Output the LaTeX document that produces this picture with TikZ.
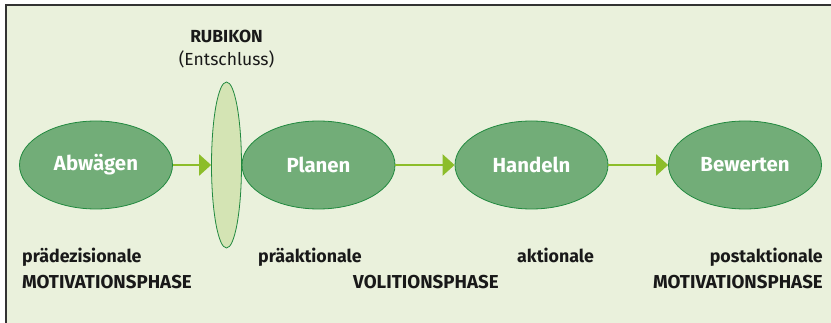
\documentclass[tikz,border=0pt]{standalone}
\usepackage{fontspec}
\setmainfont{Fira Sans}
\usetikzlibrary{shapes.geometric,arrows.meta}
\definecolor{bgpanel}{HTML}{EAF1DC}
\definecolor{phasefill}{HTML}{72AD78}
\definecolor{phaseline}{HTML}{21893F}
\definecolor{rubifill}{HTML}{D4E4B4}
\definecolor{arrowgreen}{HTML}{8CBD2A}
\definecolor{frameline}{HTML}{333333}
\tikzset{
  phase/.style={ellipse, draw=phaseline, fill=phasefill, line width=0.8pt,
    minimum width=153pt, minimum height=88pt, inner sep=0pt,
    text=white, font=\fontsize{20.4}{22}\selectfont\bfseries},
  rubicon/.style={ellipse, draw=phaseline, fill=rubifill, line width=0.8pt,
    minimum width=30pt, minimum height=166pt, inner sep=0pt},
  flow/.style={draw=arrowgreen, line width=2.6pt,
    -{Triangle[length=12pt,width=21pt]}},
  caption/.style={inner sep=0pt, text=black!90,
    font=\fontsize{18.7}{21}\selectfont\bfseries},
  smallcaption/.style={caption, font=\fontsize{17.8}{21}\selectfont\bfseries},
}
\begin{document}
\begin{tikzpicture}[x=1pt,y=-1pt]
  \useasboundingbox (0,0) rectangle (831,323);
  % panel and its frame
  \fill[white] (0,0) rectangle (831,323);
  \fill[bgpanel] (6,5) rectangle (831,323);
  \draw[frameline, line width=1.6pt] (6,323) -- (6,5) -- (831,5);

  % phases
  \node[phase] (abw) at (96,165) {Abwägen};
  \node[rubicon] (rub) at (226.5,165) {};
  \node[phase] (plan) at (318.5,165) {Planen};
  \node[phase] (hand) at (531.5,165) {Handeln};
  \node[phase] (bew) at (745,165) {Bewerten};

  % transitions
  \draw[flow] (abw.east) -- (rub.west);
  \draw[flow] (plan.east) -- (hand.west);
  \draw[flow] (hand.east) -- (bew.west);

  % decision point
  \node[caption, anchor=base, font=\fontsize{17.5}{20}\selectfont\bfseries] (rubt) at (226.5,43) {RUBIKON};
  \node[caption, anchor=base, font=\fontsize{17.5}{20}\selectfont] (rubs) at (226.5,66) {(Entschluss)};

  % phase names
  \node[smallcaption, anchor=base west] (l1a) at (22,263) {prädezisionale};
  \node[caption, anchor=base west] (l1b) at (22,289) {MOTIVATIONSPHASE};
  \node[smallcaption, anchor=base west] (l2a) at (258,263) {präaktionale};
  \node[caption, anchor=base west] (l2b) at (353,289) {VOLITIONSPHASE};
  \node[smallcaption, anchor=base west] (l3a) at (517,263) {aktionale};
  \node[smallcaption, anchor=base east] (l4a) at (823,263) {postaktionale};
  \node[caption, anchor=base east] (l4b) at (823,289) {MOTIVATIONSPHASE};
\end{tikzpicture}
\end{document}
